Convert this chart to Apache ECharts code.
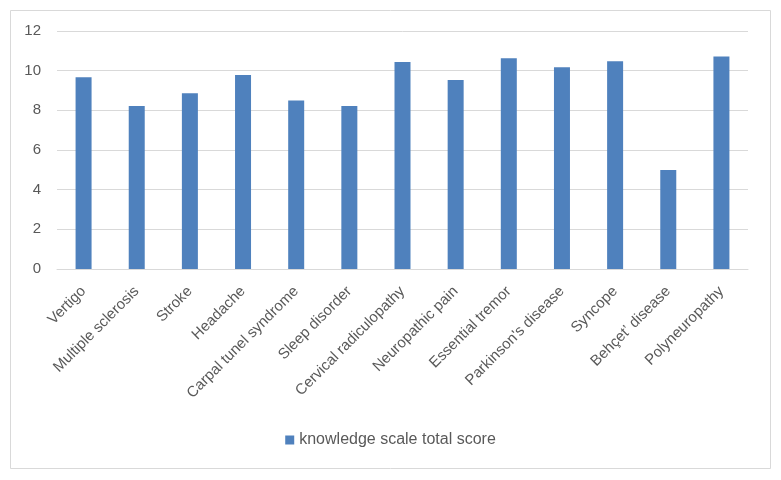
<!DOCTYPE html>
<html>
<head>
<meta charset="utf-8">
<script src="https://cdn.jsdelivr.net/npm/echarts@6/dist/echarts.min.js"></script>
<style>
  html, body { margin: 0; padding: 0; background: #fff; }
  #chart { width: 781px; height: 480px; }
</style>
</head>
<body>
<div id="chart"></div>
<script>
var categories = ['Vertigo', 'Multiple sclerosis', 'Stroke', 'Headache', 'Carpal tunel syndrome',
  'Sleep disorder', 'Cervical radiculopathy', 'Neuropathic pain', 'Essential tremor',
  "Parkinson's disease", 'Syncope', 'Behçet’ disease', 'Polyneuropathy'];
var scores = [9.67, 8.22, 8.86, 9.78, 8.49, 8.22, 10.44, 9.53, 10.62, 10.17, 10.47, 4.99, 10.71];
var seriesName = 'knowledge scale total score';

var myChart = echarts.init(document.getElementById('chart'));
var font = '"Liberation Sans", Arial, sans-serif';
var option = {
  backgroundColor: '#fff',
  textStyle: { fontFamily: font },
  graphic: [{
    type: 'rect',
    shape: { x: 10.5, y: 10.5, width: 760, height: 458 },
    style: { fill: 'none', stroke: '#d9d9d9', lineWidth: 1 },
    silent: true
  }],
  grid: { left: 57, right: 33, top: 31, bottom: 211 },
  legend: {
    bottom: 27,
    left: 'center',
    itemWidth: 9,
    itemHeight: 9,
    itemGap: 5,
    icon: 'rect',
    textStyle: { color: '#595959', fontSize: 16, fontFamily: font },
    data: [seriesName]
  },
  xAxis: {
    type: 'category',
    data: categories,
    axisLine: { lineStyle: { color: '#d9d9d9' } },
    axisTick: { show: false },
    axisLabel: {
      rotate: 45,
      interval: 0,
      color: '#595959',
      fontSize: 15,
      margin: 20,
      fontFamily: font
    }
  },
  yAxis: {
    type: 'value',
    min: 0,
    max: 12,
    interval: 2,
    axisLine: { show: false },
    axisTick: { show: false },
    axisLabel: { color: '#595959', fontSize: 15, margin: 16, fontFamily: font },
    splitLine: { lineStyle: { color: '#d9d9d9' } }
  },
  series: [{
    name: seriesName,
    type: 'bar',
    data: scores,
    barWidth: 16,
    itemStyle: { color: '#4f81bd' }
  }]
};
myChart.setOption(option);
</script>
</body>
</html>
